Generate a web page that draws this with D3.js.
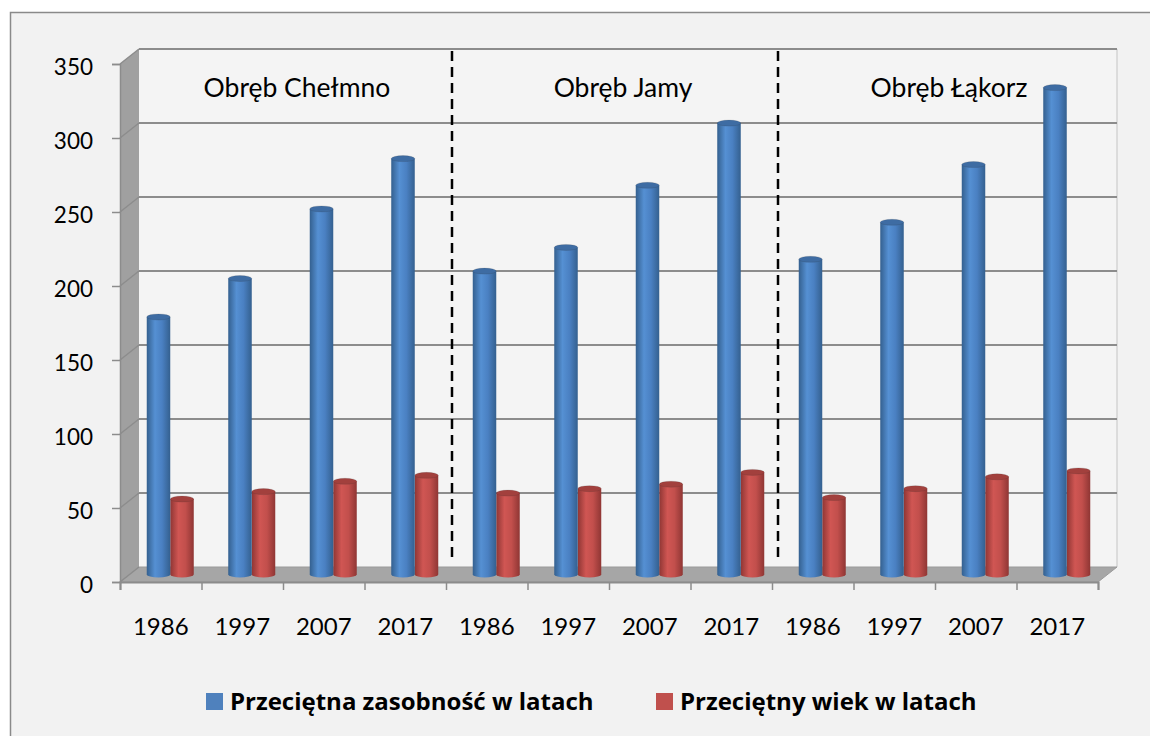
<!DOCTYPE html>
<html>
<head>
<meta charset="utf-8">
<script src="https://cdn.jsdelivr.net/npm/d3@7"></script>
<style>
  body { margin: 0; background: #ffffff; }
  svg { display: block; font-family: Lato, "Open Sans", sans-serif; }
</style>
</head>
<body>
<script>
  // dane z wykresu
  var categories = ["1986","1997","2007","2017","1986","1997","2007","2017","1986","1997","2007","2017"];
  var groups = ["Obręb Chełmno","Obręb Jamy","Obręb Łąkorz"];
  var zasobnosc = [174,200,247,281, 205,221,263,305, 213,238,277,329];
  var wiek = [51,56,63,67, 55,58,61,69, 52,58,66,70];
  var yTicks = [0,50,100,150,200,250,300,350];
  var seriesNames = ["Przeciętna zasobność w latach","Przeciętny wiek w latach"];
  var separators = [4,8];

  var W = 1150, H = 736;
  var plot = { left: 120, right: 1098, bottom: 582, top: 64 };
  var depth = { dx: 19, dy: -15 };   // przesuniecie 3D sciany tylnej
  var barW = 23.5, ry = 3;

  var svg = d3.select("body").append("svg")
      .attr("width", W)
      .attr("height", H);

  // gradienty walcow
  var defs = svg.append("defs");
  function cylGrad(id, edge, mid, light) {
    var g = defs.append("linearGradient").attr("id", id)
        .attr("x1", 0).attr("x2", 1).attr("y1", 0).attr("y2", 0);
    g.append("stop").attr("offset", "0%").attr("stop-color", edge);
    g.append("stop").attr("offset", "35%").attr("stop-color", light);
    g.append("stop").attr("offset", "65%").attr("stop-color", mid);
    g.append("stop").attr("offset", "100%").attr("stop-color", edge);
  }
  cylGrad("gBlue", "#34608f", "#4a80c2", "#5590d3");
  cylGrad("gRed", "#8f3634", "#c24f4c", "#d05653");

  // tlo wykresu
  svg.append("rect")
      .attr("x", 10.5).attr("y", 12.5)
      .attr("width", W).attr("height", H)
      .attr("fill", "#f2f2f2")
      .attr("stroke", "#8a8a8a")
      .attr("stroke-width", 1.5);

  var xEdge = d3.scaleLinear().domain([0, categories.length]).range([plot.left, plot.right]);
  var xBand = d3.scaleBand().domain(d3.range(categories.length)).range([plot.left, plot.right]);
  var y = d3.scaleLinear().domain([0, 350]).range([plot.bottom, plot.top]);

  // sciana tylna
  svg.append("rect")
      .attr("x", plot.left + depth.dx).attr("y", y(350) + depth.dy)
      .attr("width", plot.right - plot.left).attr("height", y(0) - y(350))
      .attr("fill", "#f4f4f4");
  svg.append("line")
      .attr("x1", plot.right + depth.dx).attr("x2", plot.right + depth.dx)
      .attr("y1", y(350) + depth.dy).attr("y2", y(0) + depth.dy)
      .attr("stroke", "#c4c4c4").attr("stroke-width", 1);

  // sciana lewa
  svg.append("polygon")
      .attr("points", [[plot.left, y(350)], [plot.left + depth.dx, y(350) + depth.dy],
                       [plot.left + depth.dx, y(0) + depth.dy], [plot.left, y(0)]].join(" "))
      .attr("fill", "#a0a0a0");

  // podloga
  svg.append("polygon")
      .attr("points", [[plot.left, y(0)], [plot.left + depth.dx, y(0) + depth.dy],
                       [plot.right + depth.dx, y(0) + depth.dy], [plot.right, y(0)]].join(" "))
      .attr("fill", "#a6a6a6")
      .attr("stroke", "#9a9a9a");

  // linie siatki
  svg.selectAll(".grid")
      .data(yTicks.filter(function(d){ return d > 0; }))
      .enter().append("line")
      .attr("class", "grid")
      .attr("x1", plot.left + depth.dx).attr("x2", plot.right + depth.dx)
      .attr("y1", function(d){ return y(d) + depth.dy; })
      .attr("y2", function(d){ return y(d) + depth.dy; })
      .attr("stroke", "#8c8c8c").attr("stroke-width", 2);
  svg.selectAll(".gridL")
      .data(yTicks)
      .enter().append("line")
      .attr("class", "gridL")
      .attr("x1", plot.left).attr("x2", plot.left + depth.dx)
      .attr("y1", function(d){ return y(d); })
      .attr("y2", function(d){ return y(d) + depth.dy; })
      .attr("stroke", "#8c8c8c").attr("stroke-width", 1.5);

  // linie przerywane miedzy obrebami
  svg.selectAll(".sep")
      .data(separators)
      .enter().append("line")
      .attr("class", "sep")
      .attr("x1", function(d){ return xEdge(d) + 6; })
      .attr("x2", function(d){ return xEdge(d) + 6; })
      .attr("y1", y(350) + depth.dy + 2)
      .attr("y2", y(0) - 25)
      .attr("stroke", "#000").attr("stroke-width", 2.5)
      .attr("stroke-dasharray", "10,6");

  // nazwy obrebow
  svg.selectAll(".grp")
      .data(groups)
      .enter().append("text")
      .attr("class", "grp")
      .attr("x", function(d, i){ return xEdge(i * 4 + 2) + 14; })
      .attr("y", 97)
      .attr("text-anchor", "middle")
      .attr("font-size", "26.5px")
      .attr("fill", "#000")
      .text(function(d){ return d; });

  // walce
  function cylinder(x0, v, fill, topFill) {
    var my = depth.dy / 2;
    var by = y(0) + my, ty = y(v) + my;
    var rx = barW / 2;
    var g = svg.append("g");
    g.append("path")
        .attr("d", "M" + x0 + "," + ty + " L" + x0 + "," + by +
                   " A" + rx + "," + ry + " 0 0 0 " + (x0 + barW) + "," + by +
                   " L" + (x0 + barW) + "," + ty + " Z")
        .attr("fill", fill);
    g.append("ellipse")
        .attr("cx", x0 + rx).attr("cy", ty)
        .attr("rx", rx).attr("ry", ry)
        .attr("fill", topFill)
        .attr("stroke", "#2f2f2f").attr("stroke-opacity", 0.15);
  }
  categories.forEach(function(c, i){
    var cx = xBand(i) + xBand.bandwidth() / 2 + depth.dx / 2;
    cylinder(cx, wiek[i], "url(#gRed)", "#a2403d");
    cylinder(cx - barW, zasobnosc[i], "url(#gBlue)", "#3e6ca3");
  });

  // os Y
  var yAxis = d3.axisLeft(y).tickValues(yTicks).tickSize(8).tickPadding(19);
  var gy = svg.append("g")
      .attr("transform", "translate(" + plot.left + ",0)")
      .call(yAxis);
  gy.select(".domain").attr("stroke", "#8c8c8c").attr("stroke-width", 1.5);
  gy.selectAll(".tick line").attr("stroke", "#8c8c8c").attr("stroke-width", 1.5);
  gy.selectAll(".tick text")
      .attr("font-size", "22.5px").attr("font-family", "Lato")
      .attr("fill", "#000").attr("dy", "0.45em");

  // os X - kreski na granicach kategorii
  var gx = svg.append("g")
      .attr("transform", "translate(0," + plot.bottom + ")")
      .call(d3.axisBottom(xEdge).tickValues(d3.range(categories.length + 1))
            .tickSize(8).tickFormat(""));
  gx.select(".domain").attr("stroke", "#8c8c8c").attr("stroke-width", 2);
  gx.selectAll(".tick line").attr("stroke", "#8c8c8c").attr("stroke-width", 1.5);

  // os X - etykiety lat
  var gxl = svg.append("g")
      .attr("transform", "translate(0," + plot.bottom + ")")
      .call(d3.axisBottom(xBand).tickSize(0).tickPadding(36)
            .tickFormat(function(i){ return categories[i]; }));
  gxl.select(".domain").remove();
  gxl.selectAll(".tick text")
      .attr("font-size", "24px").attr("font-family", "Lato").attr("fill", "#000");

  // legenda
  var legendX = [206, 656];
  var colors = ["#4f81bd", "#c0504d"];
  var lg = svg.selectAll(".lg")
      .data(seriesNames)
      .enter().append("g")
      .attr("class", "lg")
      .attr("transform", function(d, i){ return "translate(" + legendX[i] + ",693)"; });
  lg.append("rect")
      .attr("width", 17).attr("height", 17)
      .attr("fill", function(d, i){ return colors[i]; });
  lg.append("text")
      .attr("x", 24).attr("y", 17)
      .attr("font-size", "24px").attr("font-weight", "bold")
      .attr("font-family", "'Open Sans'")
      .attr("fill", "#000")
      .text(function(d){ return d; });
</script>
</body>
</html>
